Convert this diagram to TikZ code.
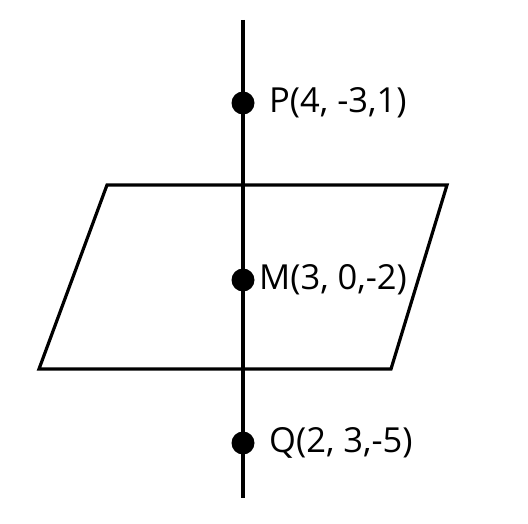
\documentclass[tikz,border=0pt]{standalone}
\usepackage{fontspec}
\setmainfont{Open Sans}
\begin{document}
\begin{tikzpicture}[x=1pt,y=1pt,
  ln/.style={line width=3.2pt},
  dot/.style={circle,fill=black,inner sep=0pt,minimum size=23pt},
  lbl/.style={anchor=west,inner sep=0pt,font=\fontsize{34.5}{38}\selectfont}]
\useasboundingbox (0,0) rectangle (528,523);
\coordinate (top) at (243,503);
\coordinate (bot) at (243,25);
\draw[ln,line join=miter] (107,338) -- (447,338) -- (391,154) -- (39,154) -- cycle;
\draw[ln] (top) -- (bot);
\node[dot] (P) at (243,420) {};
\node[dot] (M) at (243,243) {};
\node[dot] (Q) at (243,80) {};
\node[lbl] (Pl) at (269,420) {P(4, -3,1)};
\node[lbl] (Ml) at (259,243) {M(3, 0,-2)};
\node[lbl] (Ql) at (269,80) {Q(2, 3,-5)};
\end{tikzpicture}
\end{document}
